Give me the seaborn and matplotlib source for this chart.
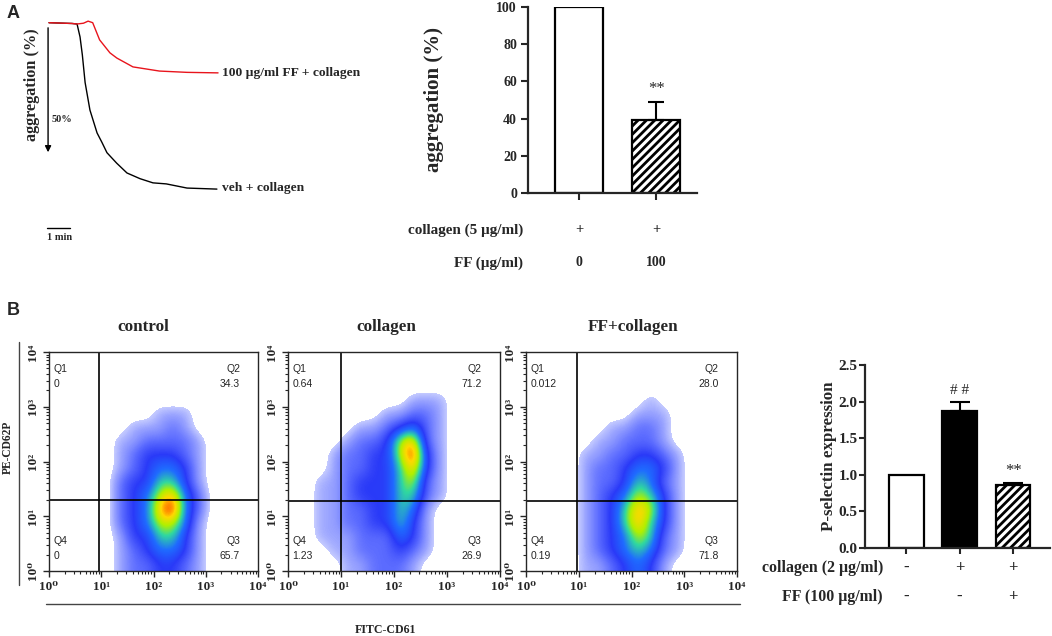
import numpy as np
import matplotlib
matplotlib.use('Agg')
import matplotlib.pyplot as plt
import matplotlib.transforms as mtrans
from matplotlib.colors import LinearSegmentedColormap
from matplotlib.lines import Line2D
import seaborn as sns

# ---------------- data ----------------
# A: aggregation traces (time in min, aggregation in %)
veh_t = [0, 1.0, 1.22, 1.35, 1.45, 1.57, 1.78, 2.09, 2.3, 2.52, 2.94, 3.39, 3.96, 4.52, 5.1, 6.0, 7.3]
veh_p = [0, 0.3, 0.5, 5.5, 12.4, 23, 33.6, 42.4, 46, 50, 54, 57.8, 60, 61.6, 62, 63.6, 64]
ff_t = [0, 1.0, 1.22, 1.5, 1.7, 1.9, 2.2, 2.65, 2.95, 3.65, 4.8, 6.0, 7.35]
ff_p = [0, 0.3, 0.5, 0.2, -0.6, 0, 6.6, 11.6, 13.6, 17, 18.6, 19.1, 19.3]
trace_labels = ['veh + collagen', '100 µg/ml FF + collagen']
scale_min = 1      # time scale bar
scale_pct = 50     # aggregation arrow

# A: bar chart
agg_groups = ['veh', 'FF']
agg_mean = [100, 39]
agg_err = [0, 10]
agg_collagen = ['+', '+']
agg_ff = ['0', '100']

# B: flow cytometry
flow_titles = ['control', 'collagen', 'FF+collagen']
q1 = ['0', '0.64', '0.012']
q2 = ['34.3', '71.2', '28.0']
q3 = ['65.7', '26.9', '71.8']
q4 = ['0', '1.23', '0.19']
gate_x = [0.96, 1.0, 0.97]     # log10 FITC gate
gate_y = [1.29, 1.28, 1.28]    # log10 PE gate
# estimated dot density, 0.25-decade bins, rows from log y 4 (top) to 0, cols log x 0 -> 4
dens_control = [
    "0000000000000000", "0000000000000000", "0000000000000000", "0000000000000000",
    "0000000011100000", "0000001112100000", "0000011222210000", "0000012333210000",
    "0000012344310000", "0000023355310000", "0000023467420000", "0000023478420000",
    "0000023466410000", "0000013355310000", "0000012344310000", "0000012233210000",
]
dens_collagen = [
    "0000000000000000", "0000000000000000", "0000000000000000", "0000000001110000",
    "0000000112210000", "0000011234210000", "0000122367210000", "0001223368310000",
    "0001223357310000", "0011233356210000", "0011233355210000", "0011223354100000",
    "0011223353100000", "0011122243100000", "0001122232100000", "0000112221000000",
]
dens_ff = [
    "0000000000000000", "0000000000000000", "0000000000000000", "0000000001000000",
    "0000000011100000", "0000001122100000", "0000011222100000", "0000112233210000",
    "0000122344310000", "0000122354210000", "0000123465310000", "0000123576310000",
    "0000123575310000", "0000123465210000", "0000123454210000", "0000112343100000",
]
flow_density = [dens_control, dens_collagen, dens_ff]

# B: P-selectin bars
psel_groups = ['control', 'collagen', 'FF+collagen']
psel_mean = [1.0, 1.87, 0.86]
psel_err = [0, 0.13, 0.03]
psel_collagen = ['-', '+', '+']
psel_ff = ['-', '-', '+']

# ---------------- style ----------------
sns.set_style('ticks')
plt.rcParams['font.family'] = ['Liberation Serif', 'DejaVu Serif']
plt.rcParams['font.weight'] = 'bold'
plt.rcParams['axes.labelweight'] = 'bold'
plt.rcParams['hatch.linewidth'] = 2.0

W, H = 1052, 636
fig = plt.figure(figsize=(W / 100, H / 100), dpi=100)


def px_axes(l, t, r, b):
    return fig.add_axes([l / W, 1 - b / H, (r - l) / W, (b - t) / H])


def ptext(x, y, s, **kw):
    fig.text(x / W, 1 - y / H, s, **kw)


def bar_style(ax, tsize, tlen=5, tpad=3):
    sns.despine(ax=ax)
    for sp in ['left', 'bottom']:
        ax.spines[sp].set_linewidth(1.6)
    ax.tick_params(direction='out', length=tlen, width=1.5, labelsize=tsize, pad=tpad)
    ax.set_xticklabels([])
    ax.set_xlabel('')


# ---------------- A: traces ----------------
ax = px_axes(40, 15, 225, 245)
sns.lineplot(x=veh_t, y=veh_p, color='black', lw=1.0, ax=ax)
sns.lineplot(x=ff_t, y=ff_p, color='#e8141c', lw=1.0, ax=ax)
ax.set_xlim(-0.391, 7.652)
ax.set_ylim(85.5, -2.96)
ax.axis('off')
ax.annotate('', xy=(-0.04, scale_pct + 0.9), xytext=(-0.04, 0.9),
            arrowprops=dict(arrowstyle='-|>', color='black', lw=1, mutation_scale=9))
ax.plot([-0.087, -0.087 + scale_min], [79, 79], color='black', lw=1)
ptext(222, 188, trace_labels[0], size=9.7, va='center')
ptext(222, 73, trace_labels[1], size=9.7, va='center')
ptext(52, 120, f'{scale_pct}%', size=7.5, va='center')
ptext(47, 237, f'{scale_min} min', size=7.5, va='center')
ptext(32, 85, 'aggregation (%)', size=11.7, rotation=90, ha='center', va='center')
ptext(7, 14, 'A', size=13, family='Liberation Sans', va='center')
ptext(7, 311, 'B', size=13, family='Liberation Sans', va='center')

# ---------------- A: bar chart ----------------
ax = px_axes(528, 7, 697, 193)
sns.barplot(x=agg_groups, y=agg_mean, color='white', edgecolor='black',
            linewidth=1.6, width=0.62, errorbar=None, ax=ax)
for p in ax.patches:
    p.set_facecolor('white')
ax.patches[1].set_hatch('////')
ax.errorbar(x=[1], y=[agg_mean[1]], yerr=[[0], [agg_err[1]]], fmt='none',
            ecolor='black', elinewidth=1.5, capsize=6, capthick=1.5)
ax.set_xlim(-0.66, 1.53)
ax.set_ylim(0, 100)
ax.set_yticks(range(0, 101, 20))
bar_style(ax, 10)
ax.set_ylabel('aggregation (%)', size=15)
ax.yaxis.set_label_coords(-0.50, 0.5)
ax.text(1, agg_mean[1] + agg_err[1] + 7, '**', ha='center', va='center', size=12, weight='normal')
tr = mtrans.blended_transform_factory(ax.transData, fig.transFigure)
for i in range(len(agg_groups)):
    ax.text(i, 1 - 230 / H, agg_collagen[i], transform=tr, ha='center', va='center', size=10.5)
    ax.text(i, 1 - 263 / H, agg_ff[i], transform=tr, ha='center', va='center', size=10)
ptext(523, 230, 'collagen (5 µg/ml)', ha='right', va='center', size=10.9)
ptext(523, 263, 'FF (µg/ml)', ha='right', va='center', size=10.9)

# ---------------- B: flow plots ----------------
dens_cmap = LinearSegmentedColormap.from_list('dens', [
    (0.0, '#c4caff'), (0.06, '#9aa4ff'), (0.18, '#5a6aff'), (0.29, '#2a3af8'),
    (0.41, '#1f6cff'), (0.53, '#30d8a0'), (0.62, '#b0f000'), (0.71, '#ffd800'),
    (0.80, '#ff5000'), (1.0, '#ff0000')])
dens_cmap.set_under('white')

flow_left = [49, 288, 526]
flow_right = [258, 500, 737]
title_x = [143, 386, 633]
sup = ['10⁰', '10¹', '10²', '10³', '10⁴']
minor = [d + np.log10(k) for d in range(4) for k in range(2, 10)]
for i in range(3):
    ax = px_axes(flow_left[i], 352, flow_right[i], 571)
    grid = np.array([[int(c) for c in row] for row in flow_density[i]], dtype=float)
    ax.imshow(grid, extent=(0, 4, 0, 4), origin='upper', cmap=dens_cmap, vmin=0.5, vmax=9,
              interpolation='bicubic', interpolation_stage='data', aspect='auto')
    ax.axvline(gate_x[i], color='black', lw=1.2)
    ax.axhline(gate_y[i], color='black', lw=1.2)
    ax.set_xlim(0, 4)
    ax.set_ylim(0, 4)
    ax.set_xticks(range(5))
    ax.set_yticks(range(5))
    ax.set_xticks(minor, minor=True)
    ax.set_yticks(minor, minor=True)
    ax.set_xticklabels(sup, size=9.5)
    ax.set_yticklabels(sup, size=9.5, rotation=90, va='center')
    ax.tick_params(which='major', direction='out', length=4, width=1, pad=3)
    ax.tick_params(which='minor', direction='out', length=2, width=0.8)
    for sp in ax.spines.values():
        sp.set_linewidth(1.0)
        sp.set_visible(True)
    qkw = dict(transform=ax.transAxes, size=7.5, family='Liberation Sans', weight='normal', va='center')
    ax.text(0.02, 0.922, 'Q1', **qkw)
    ax.text(0.02, 0.854, q1[i], **qkw)
    ax.text(0.914, 0.922, 'Q2', ha='right', **qkw)
    ax.text(0.914, 0.854, q2[i], ha='right', **qkw)
    ax.text(0.02, 0.137, 'Q4', **qkw)
    ax.text(0.02, 0.068, q4[i], **qkw)
    ax.text(0.914, 0.137, 'Q3', ha='right', **qkw)
    ax.text(0.914, 0.068, q3[i], ha='right', **qkw)
    ptext(title_x[i], 327, flow_titles[i], ha='center', va='center', size=12.3)

fig.add_artist(Line2D([19 / W, 19 / W], [1 - 342 / H, 1 - 585 / H], transform=fig.transFigure,
                      color='#444444', lw=1))
fig.add_artist(Line2D([46 / W, 740 / W], [1 - 604 / H, 1 - 604 / H], transform=fig.transFigure,
                      color='#444444', lw=1))
ptext(8, 447, 'PE-CD62P', rotation=90, ha='center', va='center', size=8.3)
ptext(385, 630, 'FITC-CD61', ha='center', va='center', size=8.6)

# ---------------- B: P-selectin bars ----------------
ax = px_axes(865, 365, 1050, 548)
sns.barplot(x=psel_groups, y=psel_mean, color='white', edgecolor='black',
            linewidth=1.6, width=0.65, errorbar=None, ax=ax)
for p in ax.patches:
    p.set_facecolor('white')
ax.patches[1].set_facecolor('black')
ax.patches[2].set_hatch('////')
ax.errorbar(x=[1, 2], y=psel_mean[1:], yerr=[[0, 0], psel_err[1:]], fmt='none',
            ecolor='black', elinewidth=1.5, capsize=7, capthick=1.5)
ax.set_xlim(-0.77, 2.69)
ax.set_ylim(0, 2.5)
ax.set_yticks(np.arange(0, 2.51, 0.5))
ax.set_yticklabels([f'{v:.1f}' for v in np.arange(0, 2.51, 0.5)])
bar_style(ax, 11, tlen=4, tpad=1.5)
ax.set_ylabel('P-selectin expression', size=12.2)
ax.yaxis.set_label_coords(-0.15, 0.5)
ax.text(1, psel_mean[1] + psel_err[1] + 0.15, '# #', ha='center', va='center', size=11, weight='normal')
ax.text(2, psel_mean[2] + psel_err[2] + 0.16, '**', ha='center', va='center', size=12, weight='normal')
tr = mtrans.blended_transform_factory(ax.transData, fig.transFigure)
for i in range(len(psel_groups)):
    ax.text(i, 1 - 568 / H, psel_collagen[i], transform=tr, ha='center', va='center', size=12)
    ax.text(i, 1 - 597 / H, psel_ff[i], transform=tr, ha='center', va='center', size=12)
ptext(883, 568, 'collagen (2 µg/ml)', ha='right', va='center', size=11.4)
ptext(883, 597, 'FF (100 µg/ml)', ha='right', va='center', size=11.4)

fig.savefig('out.png', dpi=100)
